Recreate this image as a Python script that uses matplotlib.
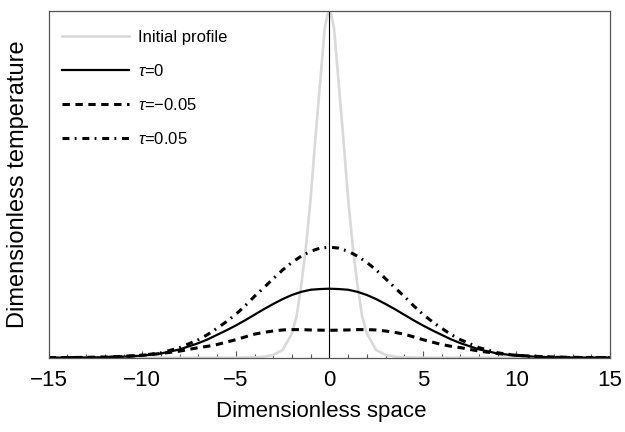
import numpy as np
import matplotlib
matplotlib.use("Agg")
import matplotlib.pyplot as plt

plt.rcParams["font.family"] = ["Liberation Sans", "DejaVu Sans"]
plt.rcParams["mathtext.fontset"] = "custom"
plt.rcParams["mathtext.it"] = "Liberation Sans:italic"
plt.rcParams["mathtext.rm"] = "Liberation Sans"
plt.rcParams["lines.scale_dashes"] = False

# half profiles (x >= 0); curves are symmetric about x = 0
x_init = [0, 0.1, 0.25, 0.5, 0.75, 1.0, 1.25, 1.5, 1.75, 2.0, 2.5, 3.0, 3.5, 4.0, 5.0, 15.0]
y_init = [1.0, 0.99, 0.95, 0.79, 0.63, 0.46, 0.32, 0.21, 0.12, 0.07, 0.022, 0.008, 0.003, 0.001, 0.0, 0.0]

x_tau = [0, 0.5, 1, 1.5, 2, 2.5, 3, 3.5, 4, 4.5, 5, 5.5, 6, 6.5, 7, 8, 9, 10, 11, 12, 13, 14, 15]
y_tau0 = [0.199, 0.198, 0.196, 0.190, 0.181, 0.169, 0.155, 0.140, 0.124, 0.108, 0.093,
          0.079, 0.066, 0.053, 0.042, 0.024, 0.012, 0.006, 0.003, 0.0013, 0.0005, 0.0002, 0.0001]
y_tau_neg = [0.079, 0.0795, 0.080, 0.081, 0.081, 0.080, 0.077, 0.073, 0.068, 0.060, 0.052,
             0.045, 0.038, 0.033, 0.029, 0.019, 0.012, 0.007, 0.004, 0.002, 0.001, 0.0005, 0.0002]
y_tau_pos = [0.319, 0.316, 0.307, 0.293, 0.275, 0.253, 0.228, 0.202, 0.177, 0.150, 0.125,
             0.104, 0.085, 0.067, 0.052, 0.029, 0.014, 0.007, 0.003, 0.0012, 0.0005, 0.0002, 0.0001]


def mirror(xs, ys):
    xs = np.asarray(xs, float)
    ys = np.asarray(ys, float)
    return np.concatenate([-xs[:0:-1], xs]), np.concatenate([ys[:0:-1], ys])


fig = plt.figure(figsize=(6.25, 4.32), dpi=100)
ax = fig.add_axes([0.078, 0.172, 0.898, 0.8025])

xi, yi = mirror(x_init, y_init)
ax.plot(xi, yi, color="#d9d9d9", lw=1.9, label="Initial profile")

xt, yt = mirror(x_tau, y_tau0)
ax.plot(xt, yt, color="black", lw=1.6, label=r"$\tau$=0")

xt, yt = mirror(x_tau, y_tau_neg)
ax.plot(xt, yt, color="black", lw=2.2, dashes=(5.3, 4.0), label="$\\tau$=\u22120.05")

xt, yt = mirror(x_tau, y_tau_pos)
ax.plot(xt, yt, color="black", lw=2.2, dashes=(5.0, 3.8, 1.3, 4.2), label=r"$\tau$=0.05")

ax.axvline(0, color="black", lw=0.8)

ax.set_xlim(-15, 15)
ax.set_ylim(0, 1)
ax.set_xticks(range(-15, 16, 5))
ax.set_xticklabels(["\u221215", "\u221210", "\u22125", "0", "5", "10", "15"])
ax.set_xticks(range(-15, 16), minor=True)
ax.set_yticks([])
ax.tick_params(axis="x", which="major", direction="in", length=5, width=0.8,
               color="#555555", labelsize=16, pad=9)
ax.tick_params(axis="x", which="minor", direction="in", length=3, width=0.8, color="#555555")
for s in ax.spines.values():
    s.set_color("#555555")
    s.set_linewidth(0.9)

fig.text(321 / 625, 1 - 411 / 432, "Dimensionless space", fontsize=16,
         ha="center", va="center")
fig.text(18 / 625, 1 - 184 / 432, "Dimensionless temperature", fontsize=17,
         ha="center", va="center", rotation=90)

ax.legend(loc="upper left", bbox_to_anchor=(0.0235, 0.945), frameon=False,
          fontsize=12, borderpad=0, borderaxespad=0, handlelength=4.0,
          handletextpad=0.55, labelspacing=1.08)

fig.savefig("out.png", dpi=100)
